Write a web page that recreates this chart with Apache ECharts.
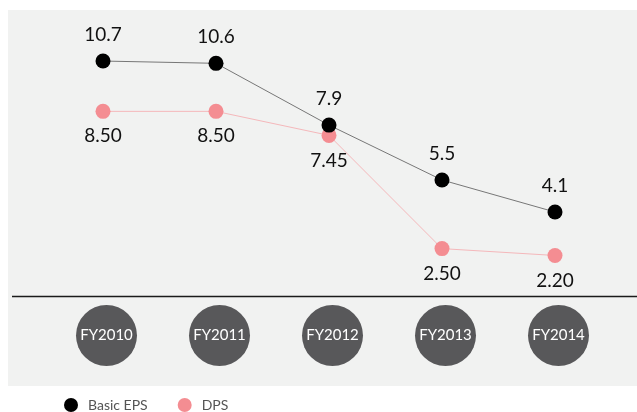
<!DOCTYPE html>
<html>
<head>
<meta charset="utf-8">
<script src="https://cdn.jsdelivr.net/npm/echarts@6/dist/echarts.min.js"></script>
<style>html,body{margin:0;padding:0;background:#fff}#c{width:637px;height:412px}</style>
</head>
<body>
<div id="c"></div>
<script>
const categories = ['FY2010', 'FY2011', 'FY2012', 'FY2013', 'FY2014'];
const basicEPS = [10.7, 10.6, 7.9, 5.5, 4.1];
const dps = [8.50, 8.50, 7.45, 2.50, 2.20];
const epsLabels = ['10.7', '10.6', '7.9', '5.5', '4.1'];
const dpsLabels = ['8.50', '8.50', '7.45', '2.50', '2.20'];

const FONT = 'Lato';
const chart = echarts.init(document.getElementById('c'), null, {renderer: 'canvas'});
chart.setOption({
  animation: false,
  backgroundColor: '#fff',
  graphic: [
    {type: 'rect', z: -10, shape: {x: 8, y: 10, width: 629, height: 376}, style: {fill: '#f1f2f1'}},
    {type: 'line', z: 5, shape: {x1: 12, y1: 296.5, x2: 637, y2: 296.5}, style: {stroke: '#1a1a1a', lineWidth: 1.5}}
  ],
  legend: {
    left: 59, top: 393,
    itemWidth: 14, itemHeight: 14, itemGap: 30,
    icon: 'circle',
    textStyle: {fontFamily: FONT, fontSize: 14, color: '#555', padding: [0, 0, 0, 5]},
    data: ['Basic EPS', 'DPS']
  },
  grid: [
    {left: 46.5, right: 25.5, top: 31.3, bottom: 106.2},
    {left: 50, right: 22, top: 300, height: 5}
  ],
  xAxis: [
    {type: 'category', gridIndex: 0, data: categories, boundaryGap: true, show: false},
    {type: 'category', gridIndex: 1, data: categories, boundaryGap: true,
     axisLine: {show: false}, axisTick: {show: false}, splitLine: {show: false},
     axisLabel: {
       margin: 0, interval: 0,
       color: '#fff', fontFamily: FONT, fontSize: 15,
       backgroundColor: '#58585a', width: 61, height: 61, lineHeight: 61,
       borderRadius: 30.5, align: 'center', verticalAlign: 'top'
     }}
  ],
  yAxis: [
    {type: 'value', gridIndex: 0, min: 0, max: 12, show: false},
    {type: 'value', gridIndex: 1, show: false}
  ],
  series: [
    {
      name: 'Basic EPS', type: 'line', xAxisIndex: 0, yAxisIndex: 0,
      data: basicEPS, symbol: 'circle', symbolSize: 15,
      itemStyle: {color: '#000'},
      lineStyle: {color: '#777', width: 1},
      label: {show: true, position: 'top', distance: 9, fontFamily: FONT, fontSize: 19, color: '#111',
        formatter: p => epsLabels[p.dataIndex]},
      z: 3
    },
    {
      name: 'DPS', type: 'line', xAxisIndex: 0, yAxisIndex: 0,
      data: dps, symbol: 'circle', symbolSize: 15,
      itemStyle: {color: '#f48d92'},
      lineStyle: {color: '#f5b8bb', width: 1},
      label: {show: true, position: 'bottom', distance: 8, fontFamily: FONT, fontSize: 19, color: '#111',
        formatter: p => dpsLabels[p.dataIndex]},
      z: 2
    }
  ]
});
</script>
</body>
</html>
